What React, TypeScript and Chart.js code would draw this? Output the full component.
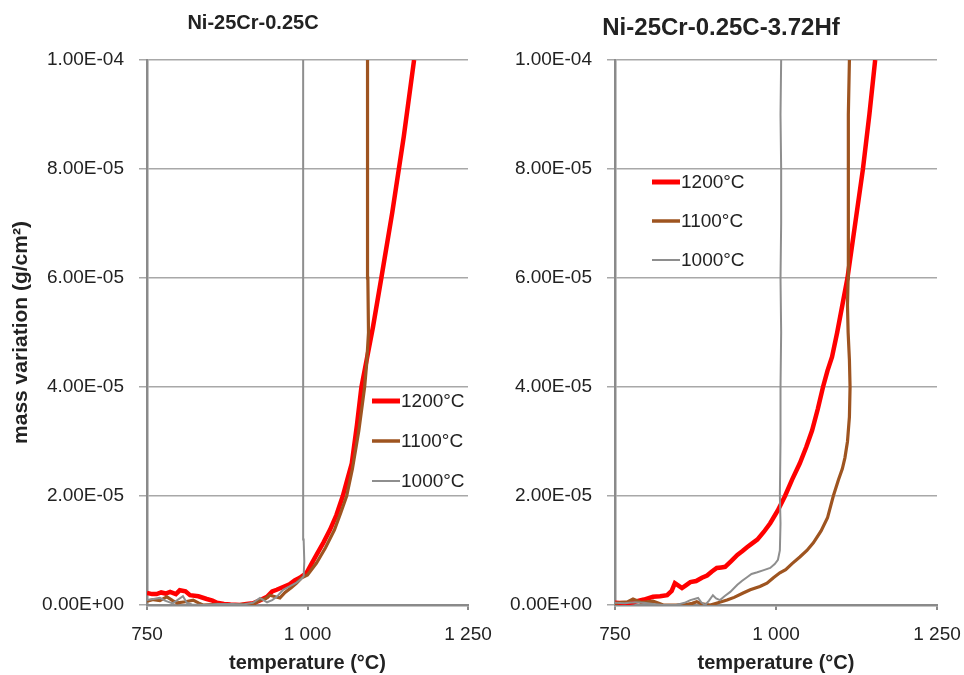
import React, { useEffect, useRef } from 'react';
import { Chart, registerables } from 'chart.js';

Chart.register(...registerables);

// ---------- data ----------
const xTickValues = [750, 1000, 1250];
const xTickLabels = ['750', '1 000', '1 250'];
const yTickValues = [0, 2e-5, 4e-5, 6e-5, 8e-5, 1e-4];
const yTickLabels = ['0.00E+00', '2.00E-05', '4.00E-05', '6.00E-05', '8.00E-05', '1.00E-04'];
const seriesLabels = ['1200°C', '1100°C', '1000°C'];
const leftTitle = 'Ni-25Cr-0.25C';
const rightTitle = 'Ni-25Cr-0.25C-3.72Hf';
const xAxisTitle = 'temperature (°C)';
const yAxisTitle = 'mass variation (g/cm²)';

// mass values below are in µg/cm² (1e-6 g/cm²)
const MASS_UNIT = 1e-6;

// Ni-25Cr-0.25C
const left1200T = [750, 758, 765, 772, 779, 786, 795, 801, 810, 817, 830, 843, 852, 859, 870, 880, 895, 905, 915, 925, 937, 945, 952, 962, 972, 980, 988, 995, 999, 1006, 1014, 1025, 1035, 1045, 1055, 1062, 1069, 1077, 1084, 1093, 1102, 1115, 1132, 1150, 1166];
const left1200M = [2.2, 2.0, 2.0, 2.3, 2.1, 2.4, 2.0, 2.7, 2.5, 1.8, 1.6, 1.1, 0.8, 0.4, 0.2, 0.1, 0, 0.2, 0.3, 0.8, 1.5, 2.5, 2.8, 3.3, 3.8, 4.5, 5.0, 5.6, 6.0, 7.5, 9.2, 11.5, 13.8, 16.5, 20, 23, 26, 33, 40, 45.5, 51, 60, 72, 86, 100];
const left1100T = [750, 760, 770, 781, 790, 797, 810, 822, 830, 837, 860, 880, 900, 915, 926, 935, 941, 950, 957, 965, 975, 983, 991, 1000, 1014, 1028, 1042, 1052, 1061, 1070, 1080, 1089, 1092, 1095, 1094, 1093, 1093, 1094, 1094];
const left1100M = [0.7, 1.0, 0.8, 1.5, 0.8, 0.4, 0.6, 0.9, 0.4, 0, 0.1, 0, 0.1, 0.1, 0.9, 1.2, 1.8, 1.5, 1.3, 2.3, 3.2, 4.0, 5.0, 5.5, 7.7, 10.5, 13.8, 17, 20, 25, 32, 40, 44, 50, 60, 70, 80, 90, 100];
const left1000T = [750, 760, 770, 778, 790, 806, 812, 820, 840, 860, 884, 900, 915, 926, 937, 945, 952, 962, 972, 983, 990, 994, 995, 994, 993, 994, 993, 993, 994, 993, 993, 993, 993];
const left1000M = [0.9, 1.1, 1.3, 0.8, 0.3, 1.6, 0.4, 0.1, 0, 0.2, 0.2, 0.1, 0.4, 1.3, 0.5, 0.9, 1.5, 2.8, 3.4, 4.1, 4.7, 5.3, 8, 12, 20, 30, 40, 50, 60, 70, 80, 90, 100];

// Ni-25Cr-0.25C-3.72Hf
const right1200T = [750, 765, 778, 795, 809, 820, 831, 838, 843, 848, 854, 860, 867, 876, 885, 893, 900, 908, 915, 921, 930, 940, 948, 955, 963, 971, 981, 991, 1003, 1014, 1025, 1037, 1047, 1056, 1065, 1073, 1080, 1087, 1095, 1103, 1111, 1123, 1135, 1145, 1154];
const right1200M = [0.4, 0.3, 0.5, 1.0, 1.5, 1.6, 1.8, 2.6, 4.0, 3.6, 3.1, 3.6, 4.2, 4.4, 5.0, 5.4, 6.1, 6.8, 6.9, 7.0, 8.0, 9.2, 9.9, 10.6, 11.3, 12.0, 13.4, 15.0, 17.4, 20, 23, 26, 29, 32, 36, 40, 43, 45.5, 50, 55, 60, 70, 80, 90, 100];
const right1100T = [750, 760, 770, 778, 790, 800, 809, 818, 825, 845, 860, 870, 877, 885, 898, 910, 924, 935, 949, 960, 975, 986, 996, 1006, 1015, 1025, 1037, 1048, 1058, 1070, 1080, 1089, 1097, 1103, 1107, 1111, 1114, 1115, 1114, 1112, 1111, 1112, 1112, 1112, 1113, 1114];
const right1100M = [0.3, 0.5, 0.6, 1.1, 0.5, 0.6, 0.7, 0.3, 0, 0, 0.1, 0.3, 0.6, 0.2, 0, 0.4, 0.9, 1.4, 2.2, 2.8, 3.4, 4.0, 5.0, 5.9, 6.5, 7.6, 8.8, 10.0, 11.4, 13.6, 16, 20, 23, 25, 27, 30, 34.5, 40, 45, 50, 55, 60, 70, 80, 90, 100];
const right1000T = [750, 765, 780, 795, 809, 825, 845, 858, 867, 879, 884, 890, 896, 902, 907, 913, 920, 929, 940, 947, 955, 962, 971, 981, 991, 998, 1003, 1006, 1007, 1006, 1007, 1007, 1008, 1007, 1008, 1008, 1007, 1008];
const right1000M = [0.4, 0.3, 0.5, 0.4, 0.2, 0, 0, 0.4, 0.9, 1.3, 0.5, 0, 0.8, 1.8, 1.2, 0.9, 1.6, 2.4, 3.7, 4.4, 5.1, 5.7, 6.0, 6.4, 6.8, 7.5, 8.3, 10, 15, 20, 30, 40, 50, 60, 70, 80, 90, 100];

// ---------- styling ----------
const FONT = '"Liberation Sans", Arial, sans-serif';
const seriesColors = ['#ff0000', '#9e5420', '#8e8e8e'];
const seriesWidths = [4.5, 3.2, 2];
const legendWidths = [5, 3.5, 2];
const GRID = '#a8a8a8';
const AXIS = '#8a8a8a';
const TEXT = '#222222';

const zip = (t: number[], m: number[]) => t.map((x, i) => ({ x, y: m[i] * MASS_UNIT }));

type PanelCfg = {
  canvasLeft: number;
  canvasWidth: number;
  padLeft: number;
  padRight: number;
  yAxisWidth: number;
  showYTitle: boolean;
  title: string;
  titleX: number;
  titleY: number;
  titleSize: number;
  legendX: number;
  legendY: number;
  legendGap: number;
  series: { t: number[]; m: number[] }[];
};

function Panel({ cfg }: { cfg: PanelCfg }) {
  const ref = useRef<HTMLCanvasElement | null>(null);
  useEffect(() => {
    if (!ref.current) return;
    const overlay = {
      id: 'overlay',
      afterDraw(chart: any) {
        const ctx = chart.ctx as CanvasRenderingContext2D;
        ctx.save();
        ctx.fillStyle = TEXT;
        ctx.font = `bold ${cfg.titleSize}px ${FONT}`;
        ctx.textAlign = 'center';
        ctx.textBaseline = 'middle';
        ctx.fillText(cfg.title, cfg.titleX, cfg.titleY);
        ctx.font = `19px ${FONT}`;
        ctx.textAlign = 'left';
        chart.data.datasets.forEach((ds: any, i: number) => {
          const y = cfg.legendY + i * cfg.legendGap;
          ctx.beginPath();
          ctx.strokeStyle = ds.borderColor;
          ctx.lineWidth = legendWidths[i];
          ctx.moveTo(cfg.legendX, y);
          ctx.lineTo(cfg.legendX + 28, y);
          ctx.stroke();
          ctx.fillStyle = TEXT;
          ctx.fillText(ds.label, cfg.legendX + 29, y + 1);
        });
        ctx.restore();
      },
    };
    const chart = new Chart(ref.current, {
      type: 'line',
      data: {
        datasets: cfg.series.map((s, i) => ({
          label: seriesLabels[i],
          data: zip(s.t, s.m),
          borderColor: seriesColors[i],
          backgroundColor: seriesColors[i],
          borderWidth: seriesWidths[i],
          pointRadius: 0,
          tension: 0,
          fill: false,
          order: 3 - i,
        })),
      },
      options: {
        animation: false,
        responsive: false,
        events: [],
        layout: { padding: { top: 60, left: cfg.padLeft, right: cfg.padRight, bottom: 0 } },
        plugins: { legend: { display: false }, title: { display: false }, tooltip: { enabled: false } },
        scales: {
          x: {
            type: 'linear',
            min: 750,
            max: 1250,
            afterBuildTicks: (scale: any) => {
              scale.ticks = xTickValues.map((v) => ({ value: v }));
            },
            afterFit: (scale: any) => {
              scale.height = 70;
              scale.paddingLeft = 0;
              scale.paddingRight = 0;
            },
            ticks: {
              autoSkip: false,
              maxRotation: 0,
              padding: 13,
              color: TEXT,
              font: { size: 19, family: FONT },
              callback: (_v: any, i: number) => xTickLabels[i],
            },
            grid: { drawOnChartArea: false, tickLength: 5, tickColor: AXIS, color: AXIS, lineWidth: 2 },
            border: { color: AXIS, width: 2.5 },
            title: {
              display: true,
              text: xAxisTitle,
              color: TEXT,
              font: { size: 20, weight: 'bold', family: FONT },
              padding: { top: 0, bottom: 0 },
            },
          },
          y: {
            type: 'linear',
            min: 0,
            max: 1e-4,
            afterBuildTicks: (scale: any) => {
              scale.ticks = yTickValues.map((v) => ({ value: v }));
            },
            afterFit: (scale: any) => {
              scale.width = cfg.yAxisWidth;
            },
            ticks: {
              autoSkip: false,
              padding: 15,
              color: TEXT,
              font: { size: 19, family: FONT },
              callback: (_v: any, i: number) => yTickLabels[i],
            },
            grid: { color: GRID, lineWidth: 1.5, tickLength: 8, tickColor: GRID },
            border: { color: AXIS, width: 2.5 },
            title: {
              display: cfg.showYTitle,
              text: yAxisTitle,
              color: TEXT,
              font: { size: 21, weight: 'bold', family: FONT },
              padding: { top: 9, bottom: 0 },
            },
          },
        },
      },
      plugins: [overlay],
    } as any);
    return () => chart.destroy();
  }, [cfg]);
  return (
    <canvas
      ref={ref}
      width={cfg.canvasWidth}
      height={675}
      style={{ position: 'absolute', left: cfg.canvasLeft, top: 0, width: cfg.canvasWidth, height: 675 }}
    />
  );
}

const leftCfg: PanelCfg = {
  canvasLeft: 0,
  canvasWidth: 506,
  padLeft: 0,
  padRight: 38,
  yAxisWidth: 147,
  showYTitle: true,
  title: leftTitle,
  titleX: 253,
  titleY: 23,
  titleSize: 20,
  legendX: 372,
  legendY: 401,
  legendGap: 40,
  series: [
    { t: left1200T, m: left1200M },
    { t: left1100T, m: left1100M },
    { t: left1000T, m: left1000M },
  ],
};

const rightCfg: PanelCfg = {
  canvasLeft: 480,
  canvasWidth: 484,
  padLeft: 25,
  padRight: 27,
  yAxisWidth: 110,
  showYTitle: false,
  title: rightTitle,
  titleX: 241,
  titleY: 28,
  titleSize: 24,
  legendX: 172,
  legendY: 182,
  legendGap: 39,
  series: [
    { t: right1200T, m: right1200M },
    { t: right1100T, m: right1100M },
    { t: right1000T, m: right1000M },
  ],
};

export default function App() {
  return (
    <div style={{ position: 'absolute', left: 0, top: 0, width: 964, height: 675, background: '#ffffff', overflow: 'hidden' }}>
      <Panel cfg={leftCfg} />
      <Panel cfg={rightCfg} />
    </div>
  );
}
